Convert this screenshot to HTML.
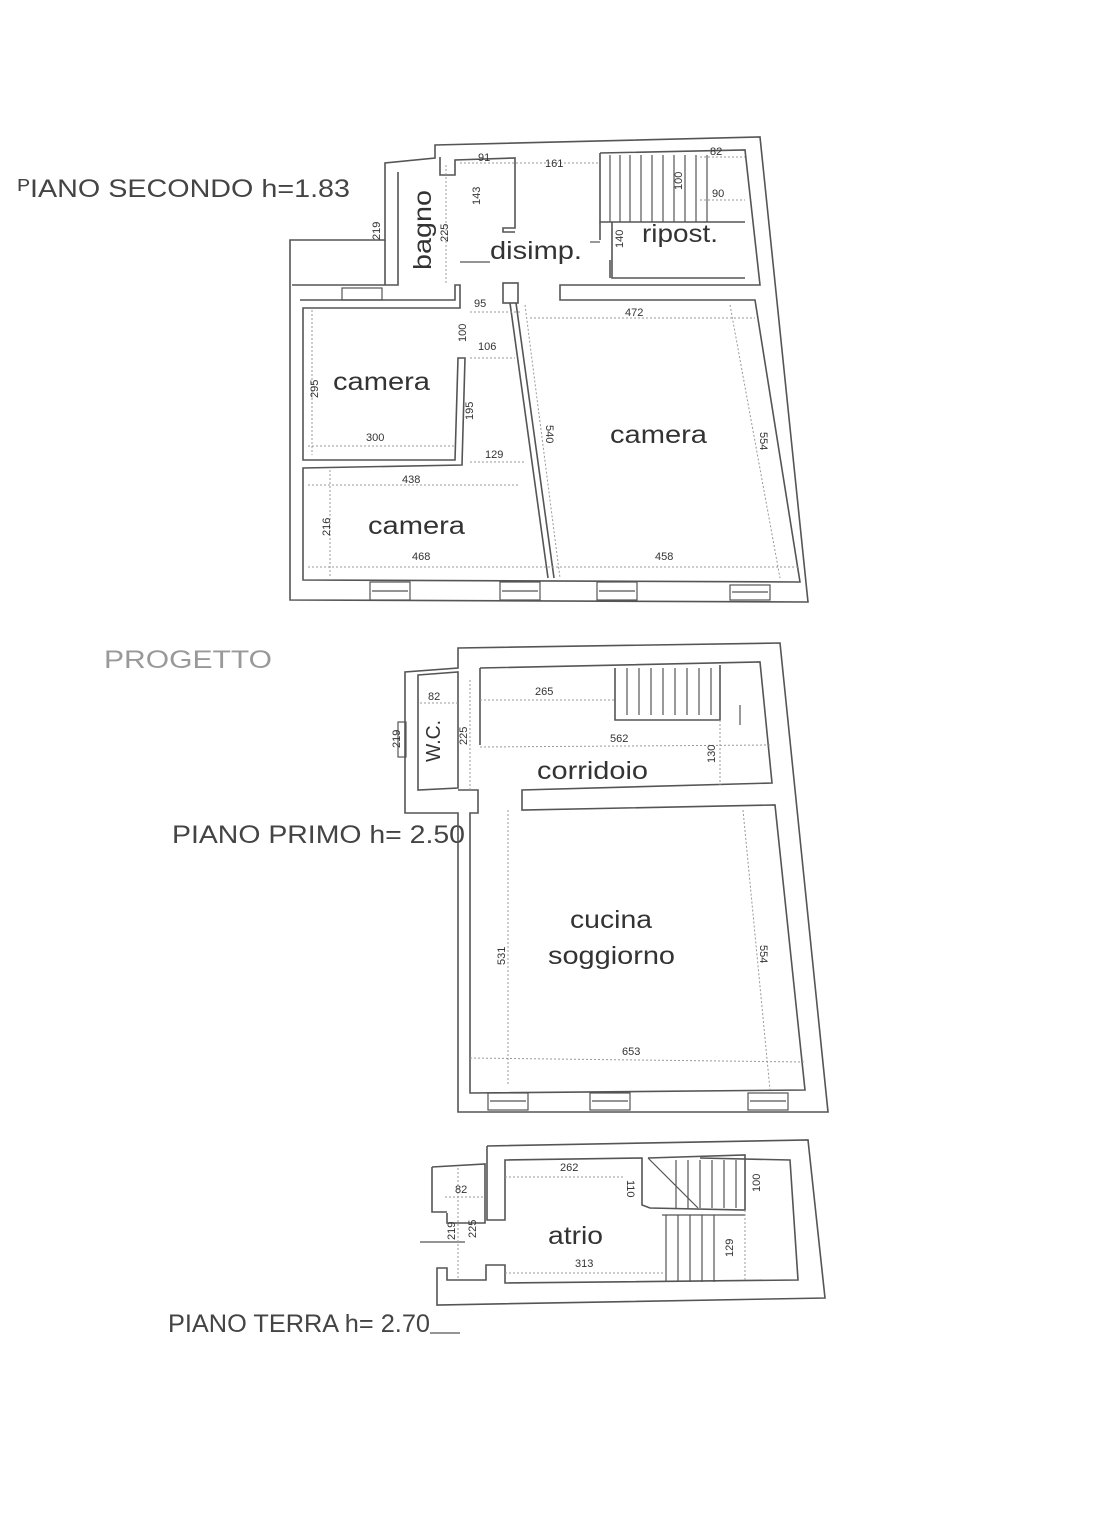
<!DOCTYPE html>
<html><head><meta charset="utf-8"><style>
html,body{margin:0;padding:0;background:#fff;}
svg{display:block}
text{font-family:"Liberation Sans",sans-serif;fill:#333}
.w{fill:none;stroke:#555;stroke-width:1.6}
.d{fill:none;stroke:#999;stroke-width:1;stroke-dasharray:2 2}
.s{fill:none;stroke:#555;stroke-width:1.2}
.n{font-size:11px;fill:#444}
.r{font-size:25px;fill:#333}
.t{font-size:25px;fill:#444}
</style></head><body>
<svg width="1115" height="1535" viewBox="0 0 1115 1535" xmlns="http://www.w3.org/2000/svg">
<text x="18" y="197" class="t" textLength="332" lengthAdjust="spacingAndGlyphs">ᴾIANO SECONDO h=1.83</text>
<text x="104" y="668" class="t" style="fill:#999" textLength="168" lengthAdjust="spacingAndGlyphs">PROGETTO</text>
<text x="172" y="843" class="t" textLength="293" lengthAdjust="spacingAndGlyphs">PIANO PRIMO h= 2.50</text>
<text x="168" y="1332" class="t" textLength="262" lengthAdjust="spacingAndGlyphs">PIANO TERRA h= 2.70</text>
<line x1="430" y1="1333" x2="460" y2="1333" class="s"/>

<path class="w" d="M435,145 L760,137 L808,602 L290,600 L290,240 L385,240 L385,163 L435,158 Z"/>
<path class="w" d="M440,157 L440,175 L455,175 L455,160 L515,158 L515,228 L503,228 L503,232 L515,232"/>
<path class="w" d="M398,172 L398,285 L292,285"/>
<path class="w" d="M385,240 L385,285"/>
<path class="w" d="M300,300 L455,300 L455,285 L460,285 L460,308 L303,308 L303,460 L455,460 L458,358 L465,358 L462,465 L303,468 L303,580 L800,582 L755,300 L560,300 L560,285 L760,285 L745,150 L600,153"/>
<path class="w" d="M600,153 L600,222 L745,222"/>
<path class="w" d="M600,222 L600,240"/>
<path class="w" d="M612,222 L612,278 L745,278"/>
<path class="w" d="M610,260 L610,278"/>
<rect x="503" y="283" width="15" height="20" class="w"/>
<path class="w" d="M510,303 L548,578 M516,303 L554,578"/>
<g class="s">
<line x1="610" y1="155" x2="610" y2="222"/><line x1="620" y1="155" x2="620" y2="222"/><line x1="630" y1="155" x2="630" y2="222"/><line x1="641" y1="155" x2="641" y2="222"/><line x1="652" y1="155" x2="652" y2="222"/><line x1="663" y1="155" x2="663" y2="222"/><line x1="674" y1="155" x2="674" y2="222"/><line x1="685" y1="155" x2="685" y2="222"/><line x1="696" y1="155" x2="696" y2="222"/><line x1="707" y1="155" x2="707" y2="222"/>
</g>
<g class="s">
<rect x="370" y="582" width="40" height="18"/><rect x="500" y="582" width="40" height="18"/><rect x="597" y="582" width="40" height="18"/><rect x="730" y="585" width="40" height="15"/>
<line x1="372" y1="591" x2="408" y2="591"/><line x1="502" y1="591" x2="538" y2="591"/><line x1="599" y1="591" x2="635" y2="591"/><line x1="732" y1="592" x2="768" y2="592"/>
<rect x="342" y="288" width="40" height="12"/>
<line x1="460" y1="262" x2="490" y2="262"/><line x1="590" y1="242" x2="600" y2="242"/>
</g>
<g class="d">
<line x1="530" y1="318" x2="755" y2="318"/><line x1="308" y1="446" x2="455" y2="446"/><line x1="312" y1="310" x2="312" y2="455"/>
<line x1="308" y1="485" x2="520" y2="485"/><line x1="308" y1="567" x2="800" y2="567"/><line x1="330" y1="470" x2="330" y2="578"/>
<line x1="730" y1="305" x2="780" y2="578"/><line x1="525" y1="305" x2="560" y2="578"/><line x1="470" y1="312" x2="520" y2="312"/><line x1="470" y1="358" x2="515" y2="358"/><line x1="470" y1="462" x2="525" y2="462"/>
<line x1="460" y1="163" x2="600" y2="163"/><line x1="700" y1="157" x2="745" y2="157"/><line x1="700" y1="200" x2="745" y2="200"/><line x1="446" y1="165" x2="446" y2="285"/>
</g>
<g class="n">
<text x="478" y="161">91</text><text x="545" y="167">161</text><text x="710" y="155">82</text><text x="712" y="197">90</text>
<text x="625" y="316">472</text><text x="366" y="441">300</text><text x="485" y="458">129</text><text x="478" y="350">106</text><text x="474" y="307">95</text>
<text x="402" y="483">438</text><text x="412" y="560">468</text><text x="655" y="560">458</text>
<text transform="translate(380,240) rotate(-90)">219</text><text transform="translate(448,242) rotate(-90)">225</text><text transform="translate(480,205) rotate(-90)">143</text><text transform="translate(623,248) rotate(-90)">140</text><text transform="translate(682,190) rotate(-90)">100</text>
<text transform="translate(318,398) rotate(-90)">295</text><text transform="translate(473,420) rotate(-90)">195</text><text transform="translate(466,342) rotate(-90)">100</text><text transform="translate(330,536) rotate(-90)">216</text>
<text transform="translate(546,425) rotate(90)">540</text><text transform="translate(760,432) rotate(90)">554</text>
</g>
<text x="490" y="259" class="r" textLength="92" lengthAdjust="spacingAndGlyphs">disimp.</text>
<text x="642" y="242" class="r" textLength="76" lengthAdjust="spacingAndGlyphs">ripost.</text>
<text transform="translate(431,270) rotate(-90)" class="r" textLength="80" lengthAdjust="spacingAndGlyphs">bagno</text>
<text x="333" y="390" class="r" textLength="97" lengthAdjust="spacingAndGlyphs">camera</text>
<text x="368" y="534" class="r" textLength="97" lengthAdjust="spacingAndGlyphs">camera</text>
<text x="610" y="443" class="r" textLength="97" lengthAdjust="spacingAndGlyphs">camera</text>

<path class="w" d="M458,648 L780,643 L828,1112 L458,1112 L458,813 L405,813 L405,672 L458,668 Z"/>
<path class="w" d="M480,668 L760,662 L772,783 L522,790 L522,810 L775,805 L805,1090 L470,1093 L470,813 L478,813 L478,790 L458,790 M480,668 L480,745"/>
<path class="w" d="M418,675 L458,672 L458,788 L418,790 Z"/>
<path class="w" d="M615,668 L615,720 L720,720 L720,665"/>
<g class="s">
<line x1="627" y1="668" x2="627" y2="715"/><line x1="639" y1="668" x2="639" y2="715"/><line x1="651" y1="668" x2="651" y2="715"/><line x1="663" y1="668" x2="663" y2="715"/><line x1="675" y1="668" x2="675" y2="715"/><line x1="687" y1="668" x2="687" y2="715"/><line x1="699" y1="668" x2="699" y2="715"/><line x1="711" y1="668" x2="711" y2="715"/>
<rect x="488" y="1093" width="40" height="17"/><rect x="590" y="1093" width="40" height="17"/><rect x="748" y="1093" width="40" height="17"/>
<line x1="490" y1="1101" x2="526" y2="1101"/><line x1="592" y1="1101" x2="628" y2="1101"/><line x1="750" y1="1101" x2="786" y2="1101"/>
<line x1="740" y1="705" x2="740" y2="725"/><rect x="398" y="722" width="8" height="35"/>
</g>
<g class="d">
<line x1="480" y1="700" x2="615" y2="700"/><line x1="480" y1="747" x2="770" y2="745"/><line x1="420" y1="703" x2="458" y2="703"/><line x1="470" y1="1058" x2="805" y2="1062"/>
<line x1="508" y1="810" x2="508" y2="1085"/><line x1="743" y1="810" x2="770" y2="1090"/><line x1="470" y1="680" x2="470" y2="790"/><line x1="720" y1="720" x2="720" y2="785"/>
</g>
<g class="n">
<text x="428" y="700">82</text><text x="535" y="695">265</text><text x="610" y="742">562</text><text x="622" y="1055">653</text>
<text transform="translate(400,748) rotate(-90)">219</text><text transform="translate(467,745) rotate(-90)">225</text><text transform="translate(715,763) rotate(-90)">130</text><text transform="translate(505,965) rotate(-90)">531</text><text transform="translate(760,945) rotate(90)">554</text>
</g>
<text transform="translate(440,762) rotate(-90)" class="r" style="font-size:20px" textLength="42" lengthAdjust="spacingAndGlyphs">W.C.</text>
<text x="537" y="779" class="r" textLength="111" lengthAdjust="spacingAndGlyphs">corridoio</text>
<text x="570" y="928" class="r" textLength="82" lengthAdjust="spacingAndGlyphs">cucina</text>
<text x="548" y="964" class="r" textLength="127" lengthAdjust="spacingAndGlyphs">soggiorno</text>

<path class="w" d="M487,1146 L808,1140 L825,1298 L437,1305 L437,1268 L447,1268 L447,1280 L486,1280 L486,1265 L505,1265 L505,1283 L798,1280 L790,1160 L700,1158"/>
<path class="w" d="M487,1146 L487,1220 L505,1220 L505,1160 L642,1158 L642,1205 L650,1208 L745,1210 L745,1155 L648,1158"/>
<path class="w" d="M432,1167 L485,1164 L485,1223 L447,1223 L447,1213"/>
<path class="w" d="M432,1167 L432,1212 L447,1212"/>
<g class="s">
<line x1="648" y1="1158" x2="698" y2="1208"/>
<line x1="676" y1="1160" x2="676" y2="1208"/><line x1="688" y1="1160" x2="688" y2="1208"/><line x1="700" y1="1160" x2="700" y2="1208"/><line x1="712" y1="1160" x2="712" y2="1208"/><line x1="724" y1="1160" x2="724" y2="1208"/><line x1="736" y1="1160" x2="736" y2="1208"/>
<line x1="666" y1="1215" x2="666" y2="1282"/><line x1="678" y1="1215" x2="678" y2="1282"/><line x1="690" y1="1215" x2="690" y2="1282"/><line x1="702" y1="1215" x2="702" y2="1282"/><line x1="714" y1="1215" x2="714" y2="1282"/>
<line x1="662" y1="1215" x2="745" y2="1215"/><line x1="420" y1="1242" x2="465" y2="1242"/>
</g>
<g class="d">
<line x1="505" y1="1177" x2="625" y2="1177"/><line x1="505" y1="1273" x2="665" y2="1273"/><line x1="445" y1="1197" x2="485" y2="1197"/><line x1="745" y1="1210" x2="745" y2="1280"/><line x1="458" y1="1168" x2="458" y2="1280"/>
</g>
<g class="n">
<text x="560" y="1171">262</text><text x="575" y="1267">313</text><text x="455" y="1193">82</text>
<text transform="translate(455,1240) rotate(-90)">219</text><text transform="translate(476,1238) rotate(-90)">225</text><text transform="translate(627,1180) rotate(90)">110</text><text transform="translate(760,1192) rotate(-90)">100</text><text transform="translate(733,1257) rotate(-90)">129</text>
</g>
<text x="548" y="1244" class="r" textLength="55" lengthAdjust="spacingAndGlyphs">atrio</text>
</svg>
</body></html>
